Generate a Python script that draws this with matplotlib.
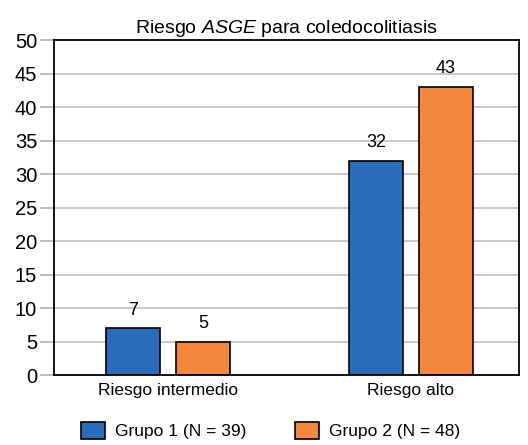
import numpy as np
import matplotlib
matplotlib.use("Agg")
import matplotlib.pyplot as plt

plt.rcParams['font.family'] = ['Liberation Sans', 'DejaVu Sans']
plt.rcParams['mathtext.fontset'] = 'custom'
plt.rcParams['mathtext.rm'] = 'Liberation Sans'
plt.rcParams['mathtext.it'] = 'Liberation Sans:italic'

categorias = ["Riesgo intermedio", "Riesgo alto"]
grupo1 = [7, 32]
grupo2 = [5, 43]
series = ["Grupo 1 (N = 39)", "Grupo 2 (N = 48)"]
colores = ["#2a6ebb", "#f2873d"]

fig = plt.figure(figsize=(5.28, 4.45), dpi=100)
ax = fig.add_axes([0.102, 0.157, 0.881, 0.753])

x = np.arange(len(categorias))
w = 0.222
off = 0.144
b1 = ax.bar(x - off, grupo1, w, color=colores[0], edgecolor="black", linewidth=1.2,
            label=series[0], zorder=3)
b2 = ax.bar(x + off, grupo2, w, color=colores[1], edgecolor="black", linewidth=1.2,
            label=series[1], zorder=3)
for bars in (b1, b2):
    for r in bars:
        ax.annotate(str(int(r.get_height())), (r.get_x() + r.get_width() / 2, r.get_height()),
                    xytext=(0, 7), textcoords="offset points", ha="center", va="bottom",
                    fontsize=13)

ax.set_ylim(0, 50)
ax.set_xlim(-0.47, 1.445)
ax.set_yticks(np.arange(0, 51, 5))
ax.tick_params(axis="y", length=10, color="#b0b0b0", width=1.2, labelsize=14.5, pad=2)
ax.set_xticks(x)
ax.set_xticklabels(categorias, fontsize=12.5)
ax.tick_params(axis="x", length=0, pad=6)
ax.yaxis.grid(True, color="#c0c0c0", linewidth=1.2, zorder=0)
for s in ax.spines.values():
    s.set_linewidth(1.3)
    s.set_zorder(4)

ax.set_title(r"Riesgo $\mathit{ASGE}$ para coledocolitiasis", fontsize=14, pad=5)

fig.legend(handles=[b1, b2], loc="center", bbox_to_anchor=(0.513, 0.033), ncol=2,
           frameon=False, fontsize=12.5, handlelength=1.35, handleheight=1.15,
           columnspacing=2.8, handletextpad=0.6)

fig.savefig("out.png", dpi=100)
